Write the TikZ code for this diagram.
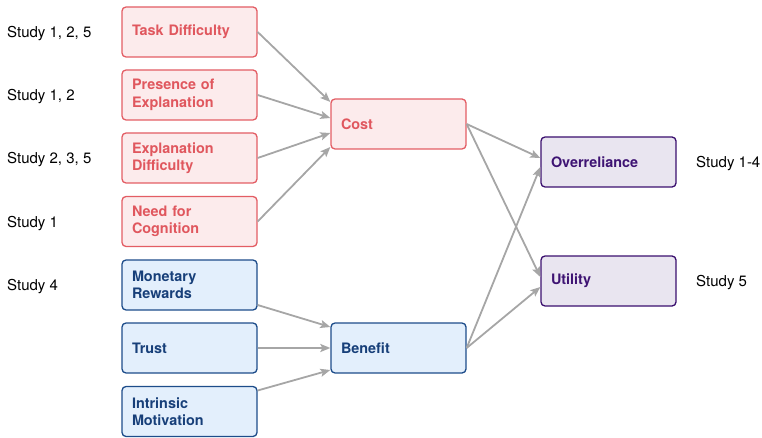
\documentclass[tikz,border=0pt]{standalone}
\usepackage{fontspec}
\setmainfont{TeX Gyre Heros}
\usetikzlibrary{arrows.meta}
\definecolor{redline}{HTML}{E35D64}
\definecolor{redfill}{HTML}{FCEBEC}
\definecolor{redtext}{HTML}{E0575E}
\definecolor{blueline}{HTML}{1D4C8A}
\definecolor{bluefill}{HTML}{E3EFFC}
\definecolor{bluetext}{HTML}{173F79}
\definecolor{purpline}{HTML}{3A0F6E}
\definecolor{purpfill}{HTML}{E9E5F0}
\definecolor{purptext}{HTML}{3E1373}
\definecolor{arrowgray}{HTML}{A6A6A6}
\tikzset{
  box/.style={rounded corners=4pt, line width=1.3pt, minimum height=50pt,
    text width=115pt, inner xsep=10pt, inner ysep=0pt, align=left,
    font=\fontsize{14.4}{17.5}\selectfont\bfseries},
  redbox/.style={box, draw=redline, fill=redfill, text=redtext},
  bluebox/.style={box, draw=blueline, fill=bluefill, text=bluetext},
  purpbox/.style={box, draw=purpline, fill=purpfill, text=purptext},
  studylbl/.style={anchor=base west, inner sep=0pt, font=\fontsize{15}{17}\selectfont},
  conn/.style={draw=arrowgray, line width=1.8pt, -{Stealth[length=10pt,width=8pt,inset=2pt]}}
}
\begin{document}
\begin{tikzpicture}[x=1pt,y=-1pt]
\useasboundingbox (0,0) rectangle (762,438);
% left column
\node[redbox] (task) at (189.5,32) {Task Difficulty};
\node[redbox] (pres) at (189.5,95) {Presence of\\Explanation};
\node[redbox] (expl) at (189.5,158) {Explanation\\Difficulty};
\node[redbox] (need) at (189.5,221.5) {Need for\\Cognition};
\node[bluebox] (mone) at (189.5,285) {Monetary\\Rewards};
\node[bluebox] (trust) at (189.5,348) {Trust};
\node[bluebox] (intr) at (189.5,411.5) {Intrinsic\\Motivation};
% middle
\node[redbox] (cost) at (398.5,124) {Cost};
\node[bluebox] (bene) at (398.5,348) {Benefit};
% right
\node[purpbox] (over) at (608.5,162) {Overreliance};
\node[purpbox] (util) at (608.5,281) {Utility};
% study labels
\node[studylbl] (s1) at (7,37.5) {Study 1, 2, 5};
\node[studylbl] (s2) at (7,100.5) {Study 1, 2};
\node[studylbl] (s3) at (7,164) {Study 2, 3, 5};
\node[studylbl] (s4) at (7,227) {Study 1};
\node[studylbl] (s5) at (7,290.5) {Study 4};
\node[studylbl] (s6) at (696,168) {Study 1-4};
\node[studylbl] (s7) at (696,286.5) {Study 5};
% connectors
\draw[conn] (task.east) -- ([yshift=22pt]cost.west);
\draw[conn] (pres.east) -- ([yshift=6pt]cost.west);
\draw[conn] (expl.east) -- ([yshift=-9pt]cost.west);
\draw[conn] (need.east) -- ([yshift=-23pt]cost.west);
\draw[conn] ([yshift=-20pt]mone.east) -- ([yshift=21pt]bene.west);
\draw[conn] (trust.east) -- (bene.west);
\draw[conn] ([yshift=21pt]intr.east) -- ([yshift=-22pt]bene.west);
\draw[conn] (cost.east) -- ([yshift=4pt]over.west);
\draw[conn] (cost.east) -- ([yshift=4pt]util.west);
\draw[conn] (bene.east) -- ([yshift=-5pt]over.west);
\draw[conn] (bene.east) -- ([yshift=-6pt]util.west);
\end{tikzpicture}
\end{document}
